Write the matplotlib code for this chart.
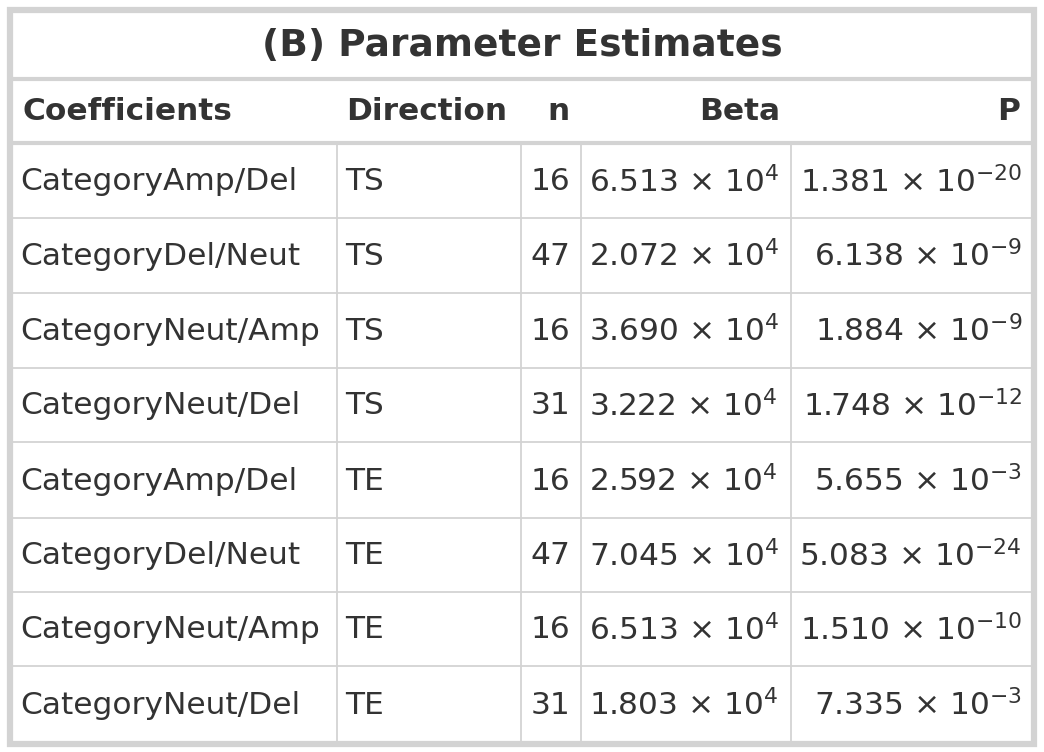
import matplotlib
matplotlib.use("Agg")
import matplotlib.pyplot as plt

title = "(B) Parameter Estimates"
headers = ["Coefficients", "Direction", "n", "Beta", "P"]
coefficients = ["CategoryAmp/Del", "CategoryDel/Neut", "CategoryNeut/Amp", "CategoryNeut/Del",
                "CategoryAmp/Del", "CategoryDel/Neut", "CategoryNeut/Amp", "CategoryNeut/Del"]
direction = ["TS", "TS", "TS", "TS", "TE", "TE", "TE", "TE"]
n_vals = [16, 47, 16, 31, 16, 47, 16, 31]
beta_mant = ["6.513", "2.072", "3.690", "3.222", "2.592", "7.045", "6.513", "1.803"]
beta_exp = [4, 4, 4, 4, 4, 4, 4, 4]
p_mant = ["1.381", "6.138", "1.884", "1.748", "5.655", "5.083", "1.510", "7.335"]
p_exp = [-20, -9, -9, -12, -3, -24, -10, -3]

W, H = 1044, 752
fig = plt.figure(figsize=(W/100, H/100), dpi=100)
ax = fig.add_axes([0, 0, 1, 1])
ax.set_xlim(0, W); ax.set_ylim(H, 0); ax.axis("off")

grid = "#d3d3d3"
txt = "#333333"
left, right, top, bottom = 10, 1034, 10, 744
ax.add_patch(plt.Rectangle((left, top), right-left, bottom-top, fill=False, ec=grid, lw=4.5))
ax.plot([left, right], [79, 79], color=grid, lw=3)
ax.plot([left, right], [143, 143], color=grid, lw=3)
row_edges = [144, 218, 293, 368, 442, 518, 592, 666, 742]
for y in row_edges[1:-1]:
    ax.plot([left, right], [y, y], color=grid, lw=1.3)
for x in [337, 521, 581, 791]:
    ax.plot([x, x], [144, bottom], color=grid, lw=1.3)

fs = 22.5
ax.text(522, 46, title, ha="center", va="center", fontsize=27, fontweight="bold", color=txt)
hy = 111
ax.text(22, hy, headers[0], ha="left", va="center", fontsize=fs, fontweight="bold", color=txt)
ax.text(346, hy, headers[1], ha="left", va="center", fontsize=fs, fontweight="bold", color=txt)
ax.text(570, hy, headers[2], ha="right", va="center", fontsize=fs, fontweight="bold", color=txt)
ax.text(780, hy, headers[3], ha="right", va="center", fontsize=fs, fontweight="bold", color=txt)
ax.text(1020, hy, headers[4], ha="right", va="center", fontsize=fs, fontweight="bold", color=txt)

for i in range(len(coefficients)):
    yc = (row_edges[i] + row_edges[i+1]) / 2 + 1
    ax.text(20, yc, coefficients[i], ha="left", va="center", fontsize=fs, color=txt)
    ax.text(345, yc, direction[i], ha="left", va="center", fontsize=fs, color=txt)
    ax.text(570, yc, str(n_vals[i]), ha="right", va="center", fontsize=fs, color=txt)
    ax.text(589, yc, f"{beta_mant[i]} × 10$^{{{beta_exp[i]}}}$", ha="left", va="center", fontsize=fs, color=txt)
    ax.text(1022, yc, f"{p_mant[i]} × 10$^{{{p_exp[i]}}}$", ha="right", va="center", fontsize=fs, color=txt)

fig.savefig("out.png", dpi=100, facecolor="white")
